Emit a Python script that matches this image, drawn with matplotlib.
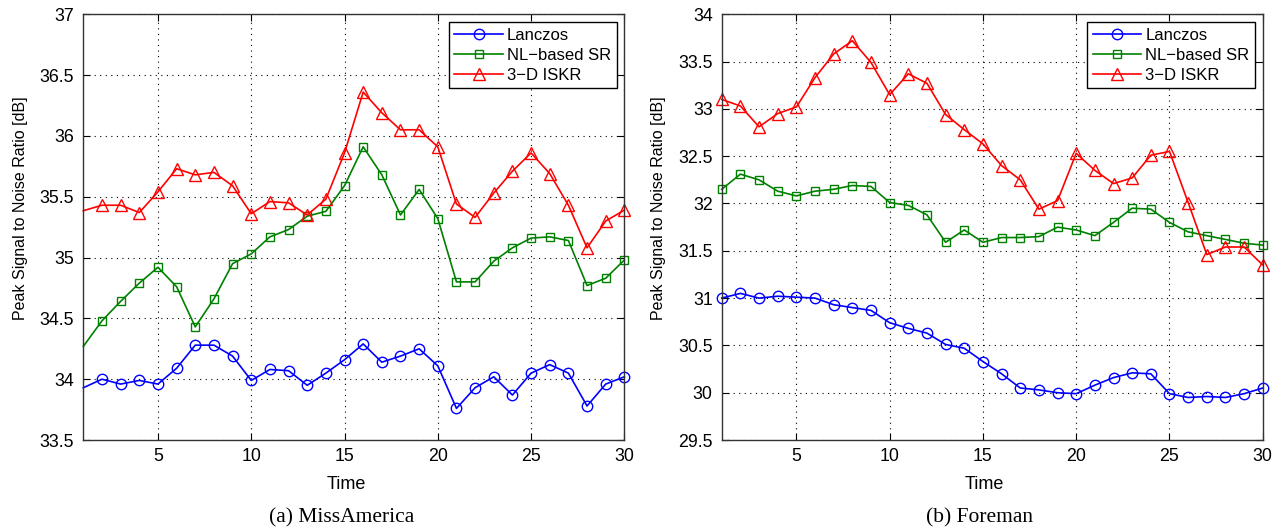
import numpy as np
import matplotlib.pyplot as plt
from matplotlib.ticker import FormatStrFormatter, MultipleLocator

plt.rcParams['font.family'] = ['Liberation Sans', 'DejaVu Sans']

time = np.arange(1, 31)
labels = ['Lanczos', 'NL\u2212based SR', '3\u2212D ISKR']

# (a) MissAmerica -- value at t=1 is where the line enters the axes
miss_lanczos = [33.93, 34.00, 33.96, 33.99, 33.96, 34.09, 34.28, 34.28, 34.19, 33.99,
                34.08, 34.07, 33.95, 34.05, 34.16, 34.29, 34.14, 34.19, 34.25, 34.11,
                33.76, 33.93, 34.02, 33.87, 34.05, 34.12, 34.05, 33.78, 33.96, 34.02]
miss_nl = [34.27, 34.48, 34.64, 34.79, 34.92, 34.76, 34.43, 34.66, 34.95, 35.03,
           35.17, 35.23, 35.34, 35.38, 35.59, 35.91, 35.68, 35.35, 35.56, 35.32,
           34.80, 34.80, 34.97, 35.08, 35.16, 35.17, 35.14, 34.77, 34.83, 34.98]
miss_iskr = [35.385, 35.43, 35.43, 35.37, 35.54, 35.73, 35.68, 35.70, 35.59, 35.36,
             35.46, 35.45, 35.35, 35.48, 35.86, 36.36, 36.19, 36.05, 36.05, 35.91,
             35.44, 35.33, 35.53, 35.71, 35.86, 35.69, 35.43, 35.08, 35.30, 35.39]

# (b) Foreman
fore_lanczos = [31.00, 31.05, 31.00, 31.02, 31.01, 31.00, 30.93, 30.90, 30.87, 30.74,
                30.68, 30.63, 30.51, 30.47, 30.33, 30.20, 30.05, 30.03, 30.00, 29.99,
                30.08, 30.16, 30.21, 30.20, 29.99, 29.95, 29.96, 29.95, 29.99, 30.05]
fore_nl = [32.15, 32.31, 32.25, 32.13, 32.08, 32.13, 32.15, 32.19, 32.18, 32.01,
           31.98, 31.88, 31.59, 31.72, 31.59, 31.64, 31.64, 31.65, 31.75, 31.72,
           31.66, 31.80, 31.95, 31.94, 31.80, 31.70, 31.66, 31.62, 31.58, 31.56]
fore_iskr = [33.10, 33.03, 32.81, 32.95, 33.02, 33.33, 33.58, 33.72, 33.49, 33.15,
             33.37, 33.27, 32.94, 32.78, 32.63, 32.40, 32.25, 31.94, 32.03, 32.53,
             32.35, 32.21, 32.27, 32.51, 32.55, 32.01, 31.46, 31.54, 31.54, 31.35]

colors = ['#0000ff', '#008000', '#ff0000']
markers = ['o', 's', '^']
msizes = [7.5, 5.5, 8]


def panel(ax, series, ylim, caption, skip_first):
  for k in range(3):
    ax.plot(time, series[k], color=colors[k], marker=markers[k], ms=msizes[k],
            mfc='none', mew=1.0, lw=1.2, label=labels[k],
            markevery=slice(1, None) if skip_first else None, clip_on=False)
  ax.set_xlim(1, 30)
  ax.set_ylim(*ylim)
  ax.set_xticks([5, 10, 15, 20, 25, 30])
  ax.yaxis.set_major_locator(MultipleLocator(0.5))
  ax.yaxis.set_major_formatter(FormatStrFormatter('%g'))
  ax.grid(True, ls=(0, (1, 4)), color='k', lw=0.8)
  ax.tick_params(direction='in', top=True, right=True, labelsize=12.8,
                 length=5, width=0.8)
  ax.tick_params(axis='x', pad=6)
  ax.tick_params(axis='y', pad=6.5)
  for s in ax.spines.values():
    s.set_linewidth(1.0)
    s.set_color('#333333')
  ax.set_xlabel('Time', fontsize=13)
  ax.xaxis.set_label_coords(0.486, -0.085)
  ax.set_ylabel('Peak Signal to Noise Ratio [dB]', fontsize=11.5)
  ax.yaxis.set_label_coords(-0.103, 0.545)
  leg = ax.legend(loc='upper right', fontsize=12, fancybox=False, framealpha=1,
                  edgecolor='k', borderaxespad=0.45, handlelength=2.9,
                  labelspacing=0.3, borderpad=0.35, handletextpad=0.25)
  leg.get_frame().set_linewidth(1.0)
  ax.text(0.477, -0.183, caption, transform=ax.transAxes, ha='center', va='center',
          fontsize=15.5, family=['Liberation Serif', 'DejaVu Serif'])


fig, axs = plt.subplots(1, 2, figsize=(12.82, 5.27), dpi=100)
fig.subplots_adjust(left=0.065, right=0.985, top=0.973, bottom=0.165, wspace=0.18)
panel(axs[0], [miss_lanczos, miss_nl, miss_iskr], (33.5, 37), '(a) MissAmerica', True)
panel(axs[1], [fore_lanczos, fore_nl, fore_iskr], (29.5, 34), '(b) Foreman', False)
fig.savefig('out.png', dpi=100)
